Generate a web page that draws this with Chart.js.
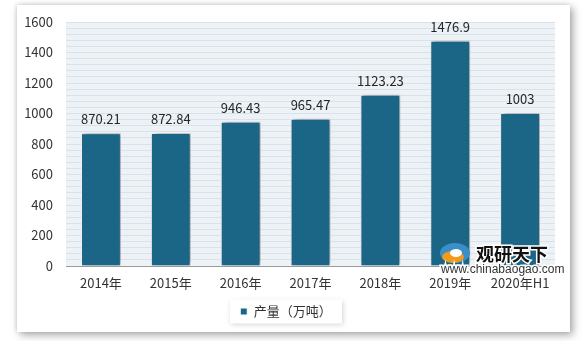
<!DOCTYPE html>
<html>
<head>
<meta charset="utf-8">
<script src="https://cdn.jsdelivr.net/npm/chart.js@4"></script>
<style>
  html, body { margin: 0; padding: 0; background: #ffffff; }
  body { width: 585px; height: 341px; position: relative; overflow: hidden; }
  #frame {
    position: absolute; left: 17px; top: 5px; width: 553px; height: 327px;
    background: #ffffff;
    box-shadow: 3px 3px 8px rgba(0,0,0,0.35), -1px -1px 4px rgba(0,0,0,0.12);
  }
  #frame canvas { display: block; }
</style>
</head>
<body>
<div id="frame"><canvas id="c" width="553" height="327"></canvas></div>
<script>
// Annual output, ten-thousand tonnes
const categories = ['2014年', '2015年', '2016年', '2017年', '2018年', '2019年', '2020年H1'];
const output = [870.21, 872.84, 946.43, 965.47, 1123.23, 1476.9, 1003];
const outputLabels = ['870.21', '872.84', '946.43', '965.47', '1123.23', '1476.9', '1003'];
const seriesName = '产量（万吨）';
const yTicks = [0, 200, 400, 600, 800, 1000, 1200, 1400, 1600];

const FONT = '"Noto Sans CJK SC", "Open Sans", sans-serif';
const BAR = '#1b6587';

// plot background
const plotBg = {
  id: 'plotBg',
  beforeDraw(chart) {
    const { ctx, chartArea: a } = chart;
    ctx.save();
    ctx.fillStyle = '#edf2f7';
    ctx.fillRect(a.left, a.top, a.right - a.left, a.bottom - a.top);
    ctx.restore();
  }
};

// soft drop shadow around bars
const barShadow = {
  id: 'barShadow',
  beforeDatasetDraw(chart) {
    const ctx = chart.ctx;
    ctx.save();
    ctx.shadowColor = 'rgba(0,0,0,0.45)';
    ctx.shadowBlur = 5;
    ctx.shadowOffsetX = 2;
    ctx.shadowOffsetY = -1;
  },
  afterDatasetDraw(chart) {
    chart.ctx.restore();
  }
};

// value labels above each bar
const valueLabels = {
  id: 'valueLabels',
  afterDatasetsDraw(chart) {
    const { ctx } = chart;
    const meta = chart.getDatasetMeta(0);
    ctx.save();
    ctx.font = '13px ' + FONT;
    ctx.fillStyle = '#262626';
    ctx.textAlign = 'center';
    ctx.textBaseline = 'middle';
    meta.data.forEach((bar, i) => {
      ctx.fillText(outputLabels[i], bar.x, bar.y - 14);
    });
    ctx.restore();
  }
};

// framed legend box and site mark
const extras = {
  id: 'extras',
  beforeDraw(chart) {
    const { ctx, legend } = chart;
    ctx.save();
    ctx.shadowColor = 'rgba(0,0,0,0.18)';
    ctx.shadowBlur = 5;
    ctx.shadowOffsetX = 1;
    ctx.shadowOffsetY = 1;
    ctx.fillStyle = '#ffffff';
    const w = 112, h = 24;
    const cx = (legend.left + legend.right) / 2;
    const cy = legend.top + legend.height / 2;
    ctx.fillRect(cx - w / 2, cy - h / 2, w, h);
    ctx.restore();
  },
  afterDraw(chart) {
    const { ctx, chartArea: a } = chart;
    ctx.save();
    const lx = a.right - 115, ly = a.bottom - 12;
    // logo swirl
    ctx.beginPath();
    ctx.ellipse(lx + 15, ly - 1, 15, 10, 0, 0, Math.PI * 2);
    ctx.fillStyle = '#3a8fc8';
    ctx.fill();
    ctx.beginPath();
    ctx.ellipse(lx + 13, ly + 3, 11, 6, 0, 0, Math.PI * 2);
    ctx.fillStyle = '#f29a1c';
    ctx.fill();
    ctx.beginPath();
    ctx.ellipse(lx + 16, ly - 1, 6, 4, 0, 0, Math.PI * 2);
    ctx.fillStyle = '#ffffff';
    ctx.fill();
    ctx.font = 'bold 18px "Noto Sans CJK SC", sans-serif';
    ctx.textBaseline = 'middle';
    ctx.textAlign = 'left';
    ctx.lineWidth = 3;
    ctx.strokeStyle = '#ffffff';
    ctx.strokeText('观研天下', lx + 36, ly);
    ctx.fillStyle = '#111111';
    ctx.fillText('观研天下', lx + 36, ly);
    ctx.font = '12px "Liberation Sans", Arial, sans-serif';
    ctx.strokeText('www.chinabaogao.com', lx + 1, ly + 16);
    ctx.fillStyle = '#333333';
    ctx.fillText('www.chinabaogao.com', lx + 1, ly + 16);
    ctx.restore();
  }
};

new Chart(document.getElementById('c'), {
  type: 'bar',
  data: {
    labels: categories,
    datasets: [{
      label: seriesName,
      data: output,
      backgroundColor: BAR,
      borderColor: '#ffffff',
      borderWidth: 1,
      categoryPercentage: 1,
      barPercentage: 0.57
    }]
  },
  options: {
    responsive: false,
    animation: false,
    devicePixelRatio: 1,
    layout: { padding: { top: 17, right: 15, bottom: 4, left: 0 } },
    scales: {
      x: {
        grid: { display: false, drawTicks: false },
        border: { display: true, color: '#9a9a9a', width: 1 },
        ticks: { color: '#333333', font: { size: 13, family: FONT }, padding: 9, maxRotation: 0 },
        afterFit(s) { s.height = 29; }
      },
      y: {
        min: 0, max: 1600,
        afterBuildTicks(s) {
          const t = [];
          for (let v = 0; v <= 1600; v += 40) t.push({ value: v });
          s.ticks = t;
        },
        grid: { color: '#d9e2ea', lineWidth: 1, drawTicks: false },
        border: { display: false },
        ticks: {
          color: '#333333', font: { size: 13, family: FONT }, padding: 13,
          autoSkip: false,
          callback: v => (yTicks.includes(v) ? String(v) : '')
        },
        afterFit(s) { s.width = 49; s.paddingTop = 8; }
      }
    },
    plugins: {
      legend: {
        position: 'bottom',
        labels: {
          color: '#333333', font: { size: 13, family: FONT },
          boxWidth: 7, boxHeight: 7, padding: 10
        }
      },
      tooltip: { enabled: false }
    }
  },
  plugins: [plotBg, extras, barShadow, valueLabels]
});
</script>
</body>
</html>
